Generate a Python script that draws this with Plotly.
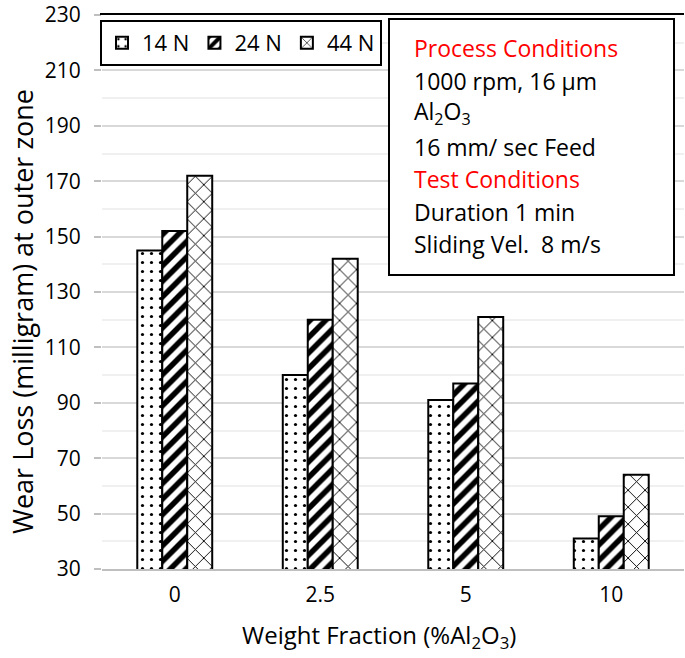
import plotly.graph_objects as go

categories = ["0", "2.5", "5", "10"]
series_names = ["14 N", "24 N", "44 N"]
wear_14N = [145, 100, 91, 41]
wear_24N = [152, 120, 97, 49]
wear_44N = [172, 142, 121, 64]
y_ticks = [30, 50, 70, 90, 110, 130, 150, 170, 190, 210, 230]

info_lines = [
    ("Process Conditions", "#ff0000"),
    ("1000 rpm, 16 µm", "#000000"),
    ("Al<sub>2</sub>O<sub>3</sub>", "#000000"),
    ("16 mm/ sec Feed", "#000000"),
    ("Test Conditions", "#ff0000"),
    ("Duration 1 min", "#000000"),
    ("Sliding Vel.  8 m/s", "#000000"),
]

FONT = "Open Sans"
# on-screen plot area (page body margin is removed below)
SX0, SX1, SY0, SY1 = 102, 684, 15, 569
W, H = 685, 658
L, T = SX0, SY0
R, B = W - SX1, H - SY1
PW, PH = SX1 - SX0, SY1 - SY0


def px(x):
    return (x - SX0) / PW


def py(y):
    return (SY1 - y) / PH


patterns = [
    dict(shape=".", fgcolor="black", bgcolor="white", fgopacity=1, size=9, solidity=0.1, fillmode="overlay"),
    dict(shape="/", fgcolor="black", bgcolor="white", fgopacity=1, size=11, solidity=0.5, fillmode="overlay"),
    dict(shape="x", fgcolor="black", bgcolor="white", fgopacity=1, size=12, solidity=0.15, fillmode="overlay"),
]

fig = go.Figure()
for name, vals, pat in zip(series_names, [wear_14N, wear_24N, wear_44N], patterns):
    fig.add_trace(go.Bar(
        x=categories, y=vals, name=name,
        marker=dict(color="white", line=dict(color="black", width=2), pattern=pat),
    ))

fig.update_layout(
    width=W, height=H,
    margin=dict(l=L, r=R, t=T, b=B),
    paper_bgcolor="white", plot_bgcolor="white",
    barmode="group", bargap=0.485, bargroupgap=0,
    font=dict(family=FONT, color="black", size=20),
    showlegend=True,
    legend=dict(
        orientation="h", x=px(100), y=py(20), xanchor="left", yanchor="top",
        bordercolor="black", borderwidth=2, bgcolor="white",
        font=dict(family=FONT, size=22, color="black"),
        itemsizing="constant", traceorder="normal",
    ),
    xaxis=dict(
        type="category", showgrid=False, showline=True, linecolor="#bfbfbf", linewidth=2,
        ticks="", tickfont=dict(size=21), automargin=False, ticklabelstandoff=6,
    ),
    yaxis=dict(
        range=[30, 230.001], tickvals=y_ticks, showgrid=True, gridcolor="#d9d9d9", gridwidth=2,
        minor=dict(dtick=10, tick0=30, showgrid=True, gridcolor="#f0f0f0", gridwidth=2),
        showline=False, zeroline=False, automargin=False, ticklabeloverflow="allow",
        ticks="outside", ticklen=7, tickcolor="#bfbfbf", tickwidth=2, ticklabelstandoff=9,
        tickfont=dict(size=21),
    ),
)

# axis titles
fig.add_annotation(text="Wear Loss (milligram) at outer zone", xref="paper", yref="paper",
                   x=px(22), y=py(312), textangle=-90, showarrow=False,
                   xanchor="center", yanchor="middle", font=dict(family=FONT, size=27, color="black"))
fig.add_annotation(text="Weight Fraction (%Al<sub>2</sub>O<sub>3</sub>)", xref="paper", yref="paper",
                   x=px(379), y=py(636), showarrow=False,
                   xanchor="center", yanchor="middle", font=dict(family=FONT, size=24, color="black"))

# top border line of the plot
fig.add_shape(type="line", xref="paper", yref="paper", x0=px(100), x1=1.0, y0=py(14), y1=py(14),
              line=dict(color="black", width=2))
# info box
fig.add_shape(type="rect", xref="paper", yref="paper", x0=px(389), x1=px(674), y0=py(275), y1=py(19),
              line=dict(color="black", width=2), fillcolor="white", layer="above")

line_y = [48, 81, 112, 147, 179, 212, 244]
for (txt, col), yy in zip(info_lines, line_y):
    fig.add_annotation(text=txt, xref="paper", yref="paper", x=px(412), y=py(yy),
                       xanchor="left", yanchor="middle", showarrow=False,
                       font=dict(family=FONT, size=23, color=col))

fig.write_html(
    "out.html",
    config={"displayModeBar": False},
    post_script="document.body.style.margin='0px';document.body.style.overflow='hidden';",
)
